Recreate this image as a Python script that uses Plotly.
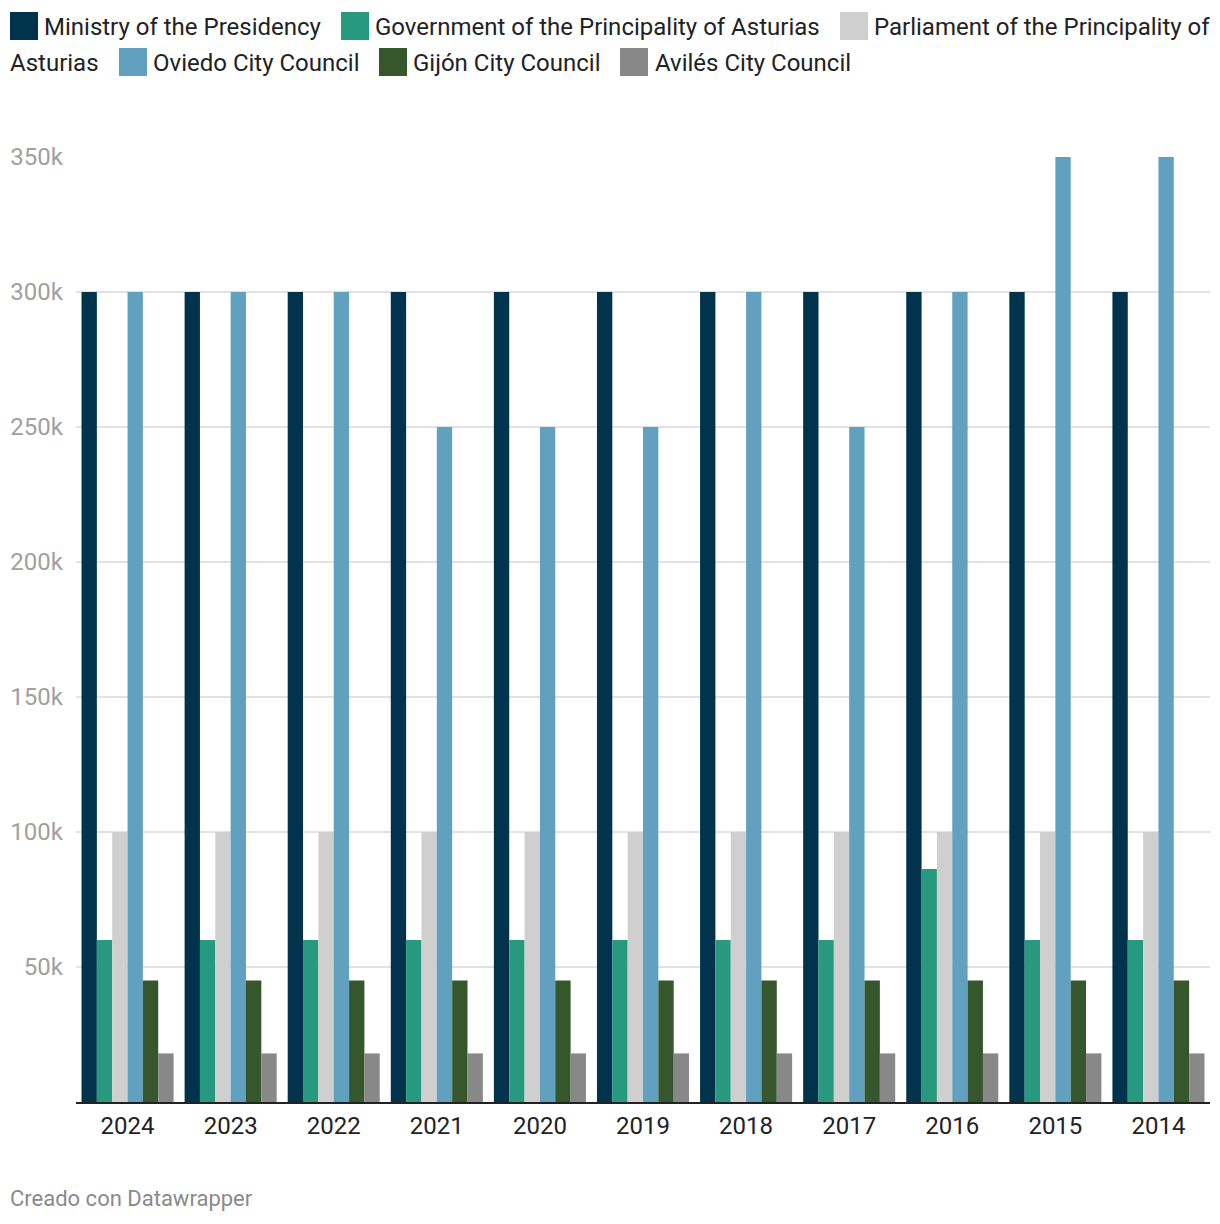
import plotly.graph_objects as go

years = ["2024", "2023", "2022", "2021", "2020", "2019", "2018", "2017", "2016", "2015", "2014"]
ministry = [300000] * 11
government = [60000, 60000, 60000, 60000, 60000, 60000, 60000, 60000, 86300, 60000, 60000]
parliament = [100000] * 11
oviedo = [300000, 300000, 300000, 250000, 250000, 250000, 300000, 250000, 300000, 350000, 350000]
gijon = [45000] * 11
aviles = [18000] * 11

series_names = ["Ministry of the Presidency", "Government of the Principality of Asturias",
                "Parliament of the Principality of Asturias", "Oviedo City Council",
                "Gijón City Council", "Avilés City Council"]
series_values = [ministry, government, parliament, oviedo, gijon, aviles]
colors = ["#01344c", "#26997e", "#cfcfcf", "#62a0bf", "#36572b", "#888888"]

ytick_vals = [50000, 100000, 150000, 200000, 250000, 300000, 350000]
ytick_text = ["50k", "100k", "150k", "200k", "250k", "300k", "350k"]

OFF = 8  # page body margin
W, H = 1212, 1216
L, T = 76 - OFF, 157 - OFF
R = W - (1210 - OFF)
B = H - (1102 - OFF)
PW, PH = W - L - R, H - T - B

def px(x):
    return (x - OFF - L) / PW

def py(y):
    return (H - B - (y - OFF)) / PH

fig = go.Figure()
for name, vals, c in zip(series_names, series_values, colors):
    fig.add_trace(go.Bar(x=years, y=vals, name=name, marker=dict(color=c, line=dict(width=0))))

FONT = "Roboto"
fig.update_layout(
    width=W, height=H,
    margin=dict(l=L, r=R, t=T, b=B, autoexpand=False),
    paper_bgcolor="white", plot_bgcolor="white",
    barmode="group", bargap=0.107, bargroupgap=0,
    showlegend=False,
    font=dict(family=FONT, size=24, color="#222222"),
    xaxis=dict(showline=True, linecolor="#222222", linewidth=2, ticks="",
               tickfont=dict(size=24, color="#222222"), ticklabelstandoff=1,
               showgrid=False, fixedrange=True, automargin=False),
    yaxis=dict(range=[0, 350000], tickvals=ytick_vals, ticktext=ytick_text,
               showgrid=True, gridcolor="#e2e2e2", gridwidth=1.5, zeroline=False,
               tickfont=dict(size=24, color="#a0a0a0"), ticklabelstandoff=12,
               fixedrange=True, automargin=False),
)

# custom legend (wrapping like the reference)
legend_items = [
    # (square_x, text_x, row_center_y, label)
    (10, 44, 26, series_names[0]),
    (341, 375, 26, series_names[1]),
    (840, 874, 26, "Parliament of the Principality of"),
    (None, 10, 62, "Asturias"),
    (119, 153, 62, series_names[3]),
    (379, 413, 62, series_names[4]),
    (620, 655, 62, series_names[5]),
]
color_for_item = [colors[0], colors[1], colors[2], None, colors[3], colors[4], colors[5]]
for (sx, tx, cy, label), c in zip(legend_items, color_for_item):
    if sx is not None:
        fig.add_shape(type="rect", xref="paper", yref="paper",
                      x0=px(sx), x1=px(sx + 28), y0=py(cy + 14), y1=py(cy - 14),
                      fillcolor=c, line=dict(width=0))
    fig.add_annotation(xref="paper", yref="paper", x=px(tx - 2), y=py(cy + 1),
                       text=label, showarrow=False, xanchor="left", yanchor="middle",
                       font=dict(family=FONT, size=24, color="#222222"))

fig.add_annotation(xref="paper", yref="paper", x=px(8), y=py(1198),
                   text="Creado con Datawrapper", showarrow=False,
                   xanchor="left", yanchor="middle",
                   font=dict(family=FONT, size=22, color="#8a8a8a"))

fig.write_html("out.html")
